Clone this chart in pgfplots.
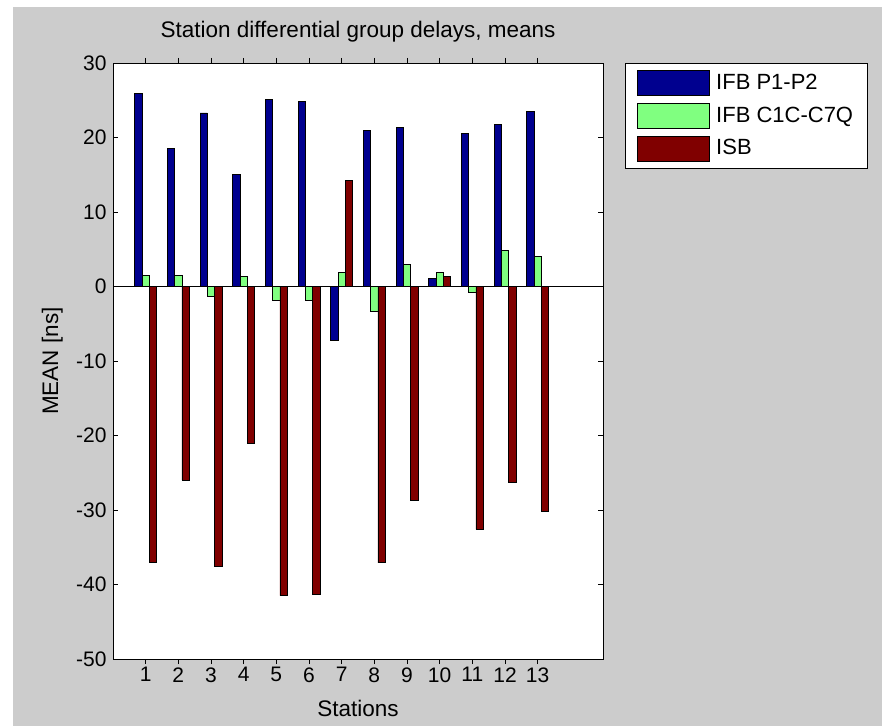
\documentclass[border=0pt]{standalone}
\usepackage{pgfplots}
\pgfplotsset{compat=1.18}
\usepackage{fontspec}
\setmainfont{Liberation Sans}
\definecolor{figgray}{RGB}{204,204,204}
\definecolor{barblue}{RGB}{0,0,143}
\definecolor{bargreen}{RGB}{128,255,128}
\definecolor{barred}{RGB}{128,0,0}
\pgfplotstableread{
st  ifbp  ifbc  isb
1   25.9   1.5  -37.1
2   18.5   1.5  -26.0
3   23.3  -1.3  -37.6
4   15.1   1.3  -21.0
5   25.1  -1.9  -41.5
6   24.8  -1.9  -41.3
7   -7.2   1.9   14.2
8   20.9  -3.4  -37.1
9   21.4   3.0  -28.7
10   1.1   1.9    1.4
11  20.5  -0.8  -32.6
12  21.7   4.8  -26.3
13  23.5   4.0  -30.2
}\datatable
\begin{document}
\begin{tikzpicture}[x=1pt,y=1pt]
\fill[white] (0,0) rectangle (882,726);
\fill[figgray] (13,0) rectangle (882,719);
\begin{axis}[
  at={(113pt,67pt)}, anchor=south west, scale only axis,
  width=490pt, height=596pt,
  xmin=0, xmax=15, ymin=-50, ymax=30,
  xtick={1,...,13}, ytick={-50,-40,...,30},
  tick align=inside, major tick length=5pt,
  axis line style={line width=0.9pt},
  every tick/.style={black, line width=0.9pt},
  axis background/.style={fill=white},
  ybar=0pt, bar width=7.3pt,
  font=\fontsize{22.5}{26}\selectfont,
  /pgf/number format/assume math mode=true,
  tick label style={font=\fontsize{21}{25}\selectfont},
  yticklabel style={xshift=-3pt},
  title={Station differential group delays, means},
  title style={at={(axis description cs:0.5,1.032)}, anchor=base},
  xlabel={Stations},
  xlabel style={at={(axis description cs:0.5,-0.0968)}, anchor=base},
  ylabel={MEAN [ns]},
  ylabel style={at={(axis description cs:-0.1122,0.5)}, anchor=base},
  legend style={at={(1.0449,1)}, anchor=north west, draw=black, line width=0.8pt,
    fill=white, font=\fontsize{22}{25}\selectfont, row sep=7pt,
    inner xsep=12pt, inner ysep=7pt,
    /tikz/every odd column/.append style={column sep=4pt}},
  legend cell align=left,
]
\addplot[fill=barblue, draw=black, line width=0.8pt,
  legend image code/.code={\draw[fill=barblue, draw=black, line width=0.8pt] (0pt,-13.5pt) rectangle (72pt,11.5pt);}]
  table[x=st, y=ifbp] {\datatable};
\addplot[fill=bargreen, draw=black, line width=0.8pt,
  legend image code/.code={\draw[fill=bargreen, draw=black, line width=0.8pt] (0pt,-13.5pt) rectangle (72pt,11.5pt);}]
  table[x=st, y=ifbc] {\datatable};
\addplot[fill=barred, draw=black, line width=0.8pt,
  legend image code/.code={\draw[fill=barred, draw=black, line width=0.8pt] (0pt,-13.5pt) rectangle (72pt,11.5pt);}]
  table[x=st, y=isb] {\datatable};
\legend{IFB P1-P2, IFB C1C-C7Q, ISB}
\draw[black, line width=0.9pt] (axis cs:0,0) -- (axis cs:15,0);
\end{axis}
\end{tikzpicture}
\end{document}
